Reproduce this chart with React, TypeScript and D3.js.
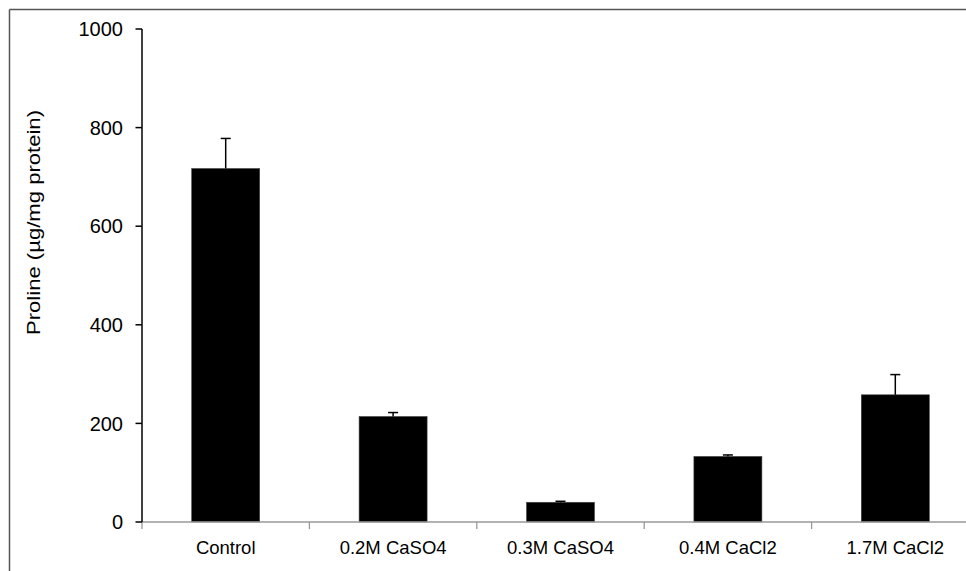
import React from "react";
import * as d3 from "d3";

const categories = ["Control", "0.2M CaSO4", "0.3M CaSO4", "0.4M CaCl2", "1.7M CaCl2"];
const values = [717, 214, 40, 133, 258];
const errors = [61, 8, 2, 3, 41];
const yTicks = [0, 200, 400, 600, 800, 1000];
const yLabel = "Proline (µg/mg protein)";

const W = 966;
const H = 571;
const left = 142;
const band = 167.4;
const y0 = 522;
const yTop = 29;

export default function App() {
  const x = d3
    .scaleBand<string>()
    .domain(categories)
    .range([left, left + band * categories.length])
    .paddingInner(0)
    .paddingOuter(0);
  const y = d3.scaleLinear().domain([0, 1000]).range([y0, yTop]);
  const barW = 68;
  const font = "'Liberation Sans', Arial, sans-serif";
  const boundaries = categories.map((c) => x(c) as number).concat([left + band * categories.length]);

  return (
    <div style={{ position: "fixed", left: 0, top: 0 }}>
      <svg width={W} height={H} style={{ display: "block", background: "#fff" }}>
        <rect x={0} y={0} width={W} height={H} fill="#fff" />
        {/* frame */}
        <line x1={9.5} y1={9.5} x2={W} y2={9.5} stroke="#555" strokeWidth={1.5} />
        <line x1={9.5} y1={9.5} x2={9.5} y2={H} stroke="#555" strokeWidth={1.5} />

        {/* bars */}
        {categories.map((c, i) => {
          const cx = (x(c) as number) + x.bandwidth() / 2;
          return (
            <g key={c}>
              <rect
                x={cx - barW / 2}
                y={y(values[i])}
                width={barW}
                height={y0 - y(values[i])}
                fill="#000"
                stroke="#444"
                strokeWidth={0.6}
              />
              <line x1={cx} x2={cx} y1={y(values[i])} y2={y(values[i] + errors[i])} stroke="#000" strokeWidth={1.5} />
              <line x1={cx - 5} x2={cx + 5} y1={y(values[i] + errors[i])} y2={y(values[i] + errors[i])} stroke="#000" strokeWidth={1.5} />
            </g>
          );
        })}

        {/* x axis */}
        <line x1={left} x2={W} y1={y0} y2={y0} stroke="#999" strokeWidth={1.3} />
        {boundaries.map((bx, i) => (
          <line key={i} x1={bx} x2={bx} y1={y0} y2={y0 + 7} stroke="#999" strokeWidth={1.3} />
        ))}
        {categories.map((c) => (
          <text
            key={c}
            x={(x(c) as number) + x.bandwidth() / 2}
            y={554}
            textAnchor="middle"
            fontFamily={font}
            fontSize={18.5}
            fill="#000"
          >
            {c}
          </text>
        ))}

        {/* y axis */}
        <line x1={left} x2={left} y1={yTop} y2={y0} stroke="#000" strokeWidth={1.5} />
        {yTicks.map((t) => (
          <g key={t}>
            <line x1={left - 6.5} x2={left} y1={y(t)} y2={y(t)} stroke="#000" strokeWidth={1.5} />
            <text
              x={123}
              y={y(t)}
              dy="0.36em"
              textAnchor="end"
              fontFamily={font}
              fontSize={20}
              fill="#000"
            >
              {t}
            </text>
          </g>
        ))}
        <text
          transform={`translate(40, 222.5) rotate(-90)`}
          textAnchor="middle"
          fontFamily={font}
          fontSize={18}
          textLength={225}
          lengthAdjust="spacingAndGlyphs"
          fill="#000"
        >
          {yLabel}
        </text>
      </svg>
    </div>
  );
}
